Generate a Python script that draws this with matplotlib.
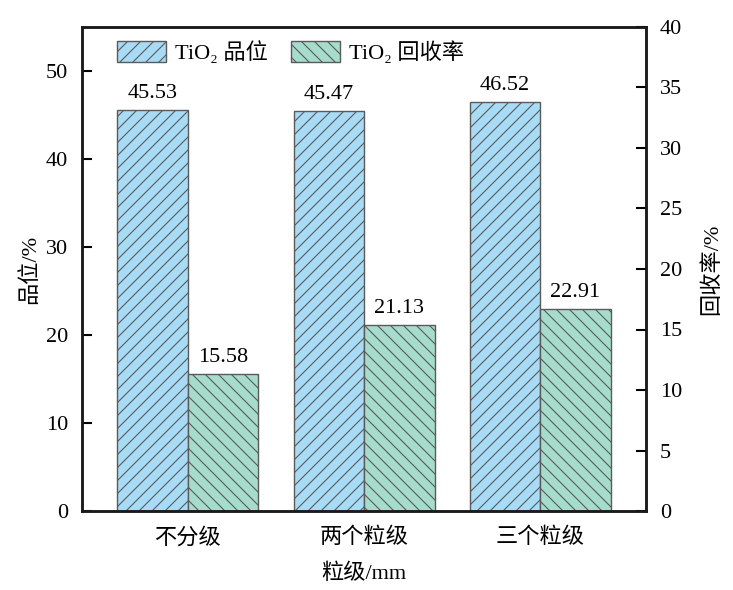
import matplotlib
matplotlib.use("Agg")
import matplotlib.pyplot as plt
import numpy as np

categories = ["不分级", "两个粒级", "三个粒级"]
grade = [45.53, 45.47, 46.52]
recovery = [15.58, 21.13, 22.91]
series_names = ["TiO₂ 品位", "TiO₂ 回收率"]

DPI = 78
S = 100 / DPI  # scale so point sizes match a 100-dpi layout

plt.rcParams['font.family'] = ['Liberation Serif', 'Noto Sans CJK SC']
plt.rcParams['hatch.color'] = '#555555'
plt.rcParams['hatch.linewidth'] = 0.8 * S

fig = plt.figure(figsize=(733 / DPI, 590 / DPI), dpi=DPI)
ax = fig.add_axes([82/733, 1-511/590, (646-82)/733, (511-27)/590])

FS = 16 * S
x = np.arange(len(categories))
w = 0.4
ax.bar(x - w/2, grade, w, color='#a8dbf6', edgecolor='#5a5a5a', linewidth=1.0 * S,
       hatch='//', label=series_names[0])
ax.bar(x + w/2, recovery, w, color='#a6dccb', edgecolor='#5a5a5a', linewidth=1.0 * S,
       hatch='\\\\', label=series_names[1])

for xi, v in zip(x - w/2, grade):
    ax.text(xi, v + 0.8, f"{v:.2f}", ha='center', va='bottom', fontsize=FS)
for xi, v in zip(x + w/2, recovery):
    ax.text(xi, v + 0.8, f"{v:.2f}", ha='center', va='bottom', fontsize=FS)

ax.set_xlim(-0.6, 2.6)
ax.set_ylim(0, 55)
ax.set_yticks(np.arange(0, 51, 10))
ax.set_xticks(x)
ax.set_xticklabels(categories, fontsize=FS)
ax.tick_params(axis='y', direction='in', length=7 * S, width=1.5 * S, labelsize=FS, pad=10 * S)
ax.tick_params(axis='x', length=0, pad=12 * S)
ax.set_xlabel("粒级/mm", fontsize=FS, labelpad=11 * S)
ax.set_ylabel("品位/%", fontsize=FS, labelpad=4 * S)
for s in ax.spines.values():
    s.set_linewidth(1.8 * S)
    s.set_color('#1a1a1a')

ax2 = ax.twinx()
ax2.set_ylim(0, 40)
ax2.set_yticks(np.arange(0, 41, 5))
ax2.tick_params(axis='y', direction='in', length=7 * S, width=1.5 * S, labelsize=FS, pad=10 * S)
ax2.set_ylabel("回收率/%", fontsize=FS, labelpad=14 * S)
for s in ax2.spines.values():
    s.set_linewidth(1.8 * S)
    s.set_color('#1a1a1a')

ax.legend(loc='upper left', ncol=2, frameon=False, fontsize=FS,
          bbox_to_anchor=(0.027, 1.012), handlelength=2.2, handleheight=1.05,
          columnspacing=1.05, handletextpad=0.4)

fig.savefig("out.png", dpi=DPI)
